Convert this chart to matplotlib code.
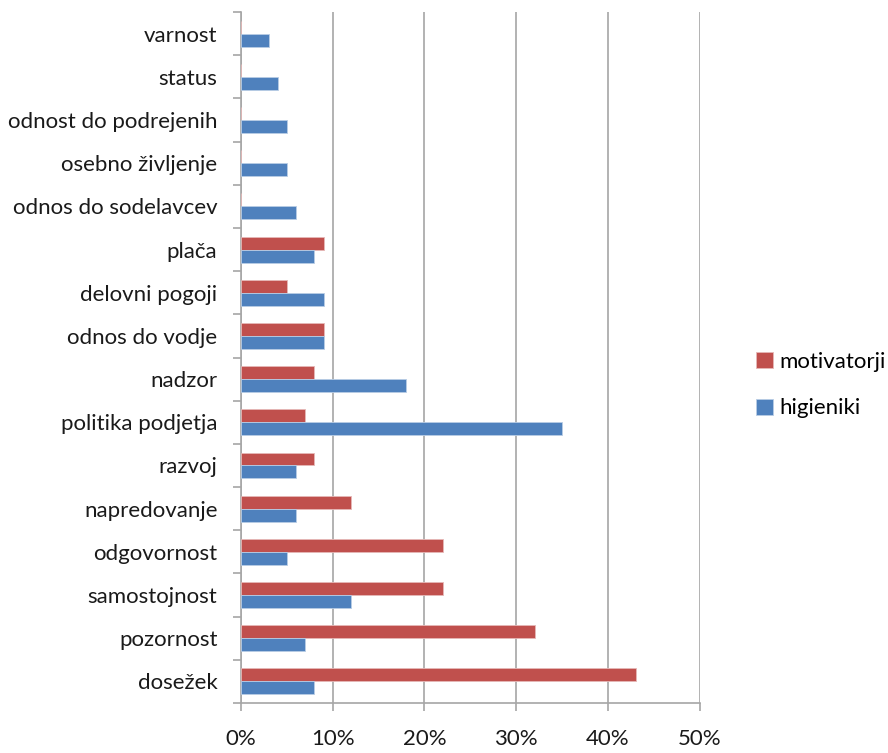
import numpy as np
import matplotlib
import matplotlib.pyplot as plt
from matplotlib.ticker import FixedLocator, PercentFormatter

# dejavniki od spodaj navzgor
dejavniki = ['dosežek', 'pozornost', 'samostojnost', 'odgovornost', 'napredovanje',
             'razvoj', 'politika podjetja', 'nadzor', 'odnos do vodje', 'delovni pogoji',
             'plača', 'odnos do sodelavcev', 'osebno življenje', 'odnost do podrejenih',
             'status', 'varnost']
motivatorji = [43, 32, 22, 22, 12, 8, 7, 8, 9, 5, 9, 0, 0, 0, 0, 0]
higieniki = [8, 7, 12, 5, 6, 6, 35, 18, 9, 9, 8, 6, 5, 5, 4, 3]
x_oznake = [0, 10, 20, 30, 40, 50]

rdeca = '#C0504D'
modra = '#4F81BD'
siva = '#A6A6A6'

matplotlib.rcParams.update({'font.family': ['Lato', 'DejaVu Sans'], 'font.size': 16})

fig = plt.figure(figsize=(8.88, 7.53), dpi=100)
ax = fig.add_axes([0.2714, 0.0664, 0.788 - 0.2714, 0.984 - 0.0664])

y = np.arange(len(dejavniki))
h = 0.3
ax.barh(y + h / 2, motivatorji, height=h, color=rdeca, edgecolor='#E6B8B7',
        linewidth=0.6, label='motivatorji', zorder=3)
ax.barh(y - h / 2, higieniki, height=h, color=modra, edgecolor='#B9CDE5',
        linewidth=0.6, label='higieniki', zorder=3)

ax.set_xlim(0, 50)
ax.set_ylim(-0.5, len(dejavniki) - 0.5)
ax.set_xticks(x_oznake)
ax.xaxis.set_major_formatter(PercentFormatter(decimals=0))
ax.grid(axis='x', color=siva, linewidth=1.2, zorder=0)

ax.set_yticks(y)
ax.set_yticklabels(dejavniki)
ax.yaxis.set_minor_locator(FixedLocator(np.arange(-0.5, len(dejavniki), 1)))
ax.tick_params(axis='y', which='major', length=0, pad=17, labelcolor='#1a1a1a')
ax.tick_params(axis='y', which='minor', length=6, width=1.2, color=siva)
ax.tick_params(axis='x', length=6, width=1.2, color=siva, pad=13, labelcolor='#1a1a1a')

for s in ['top', 'right']:
    ax.spines[s].set_visible(False)
for s in ['left', 'bottom']:
    ax.spines[s].set_color(siva)
    ax.spines[s].set_linewidth(1.2)

ax.legend(loc='center left', bbox_to_anchor=(1.08, 0.46), frameon=False,
          handlelength=0.75, handleheight=0.75, handletextpad=0.3, labelspacing=1.2)

fig.savefig('out.png', dpi=100)
